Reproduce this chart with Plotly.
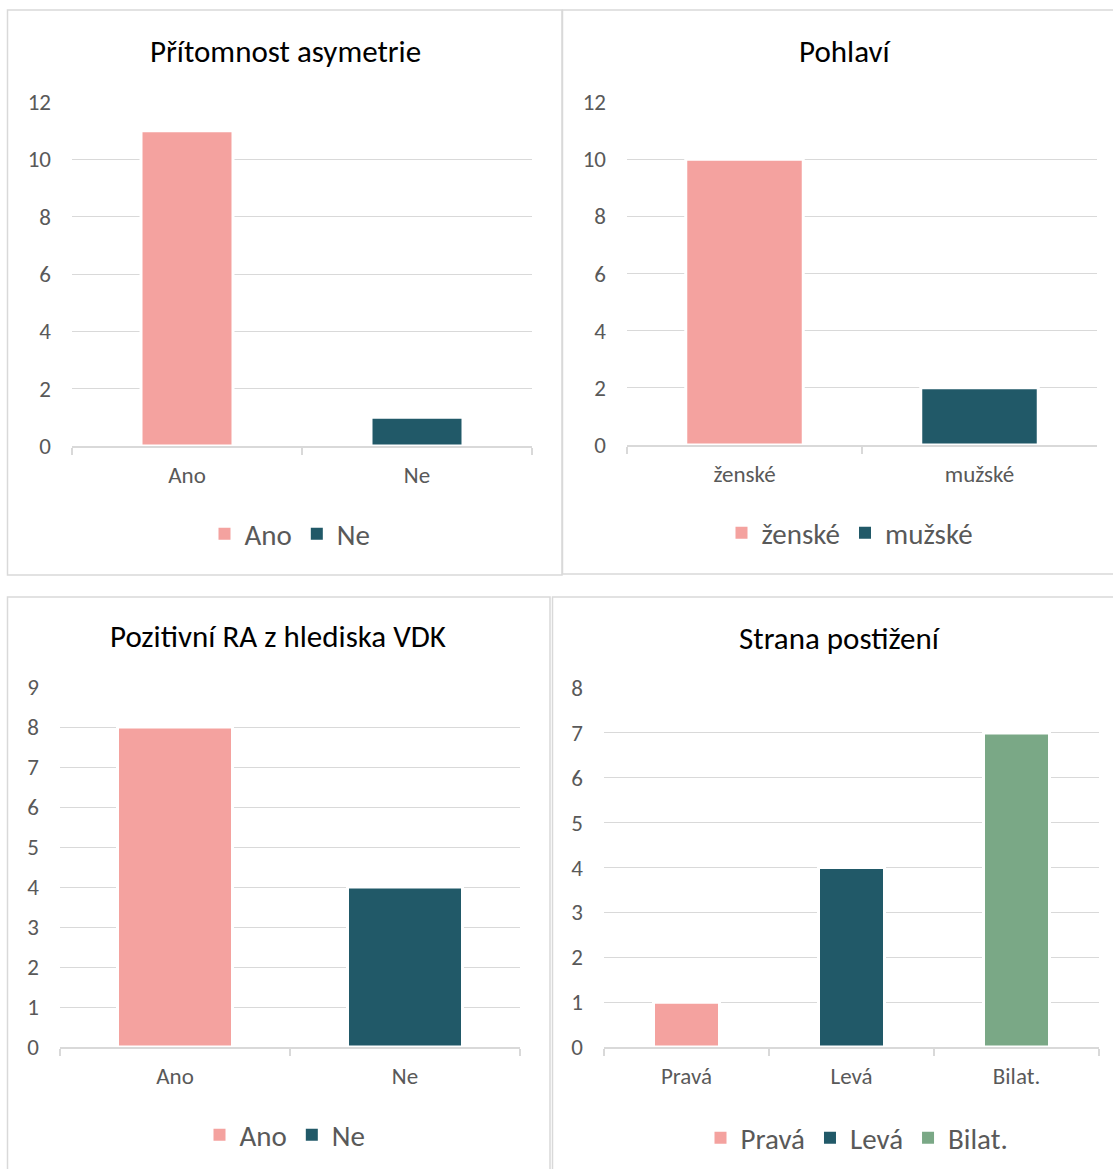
import plotly.graph_objects as go

W, H = 1113, 1169

# ---- data ----
titles = ["Přítomnost asymetrie", "Pohlaví", "Pozitivní RA z hlediska VDK", "Strana postižení"]
cats1 = ["Ano", "Ne"]
vals1 = [11, 1]
cats2 = ["ženské", "mužské"]
vals2 = [10, 2]
cats3 = ["Ano", "Ne"]
vals3 = [8, 4]
cats4 = ["Pravá", "Levá", "Bilat."]
vals4 = [1, 4, 7]

PINK = "#F4A29F"
TEAL = "#215968"
GREEN = "#7AA886"
colors1 = [PINK, TEAL]
colors2 = [PINK, TEAL]
colors3 = [PINK, TEAL]
colors4 = [PINK, TEAL, GREEN]

FONT = "Carlito, Lato, sans-serif"
GRID = "#D9D9D9"
TXT = "#595959"


def px(x):
    return x / W


def py(y):
    return 1 - y / H


panels = [
    dict(c=cats1, v=vals1, col=colors1, xd=(72, 532), yd=(446, 102), ymax=12, dt=2, bw=0.40, tp=(285, 51), lp=(290, 534)),
    dict(c=cats2, v=vals2, col=colors2, xd=(627, 1097), yd=(445, 102), ymax=12, dt=2, bw=0.50, tp=(845, 51), lp=(850, 533)),
    dict(c=cats3, v=vals3, col=colors3, xd=(60, 520), yd=(1047, 687), ymax=9, dt=1, bw=0.50, tp=(278, 636), lp=(285, 1135)),
    dict(c=cats4, v=vals4, col=colors4, xd=(604, 1099), yd=(1047, 688), ymax=8, dt=1, bw=0.40, tp=(840, 638), lp=(857, 1138)),
]

fig = go.Figure()
layout = dict(
    width=W, height=H, margin=dict(l=0, r=0, t=0, b=0, autoexpand=False),
    paper_bgcolor="white", plot_bgcolor="white",
    barmode="overlay", font=dict(family=FONT, color=TXT),
    annotations=[], shapes=[],
)

for i, p in enumerate(panels, start=1):
    sfx = "" if i == 1 else str(i)
    lg = "legend" if i == 1 else f"legend{i}"
    for cat, val, col in zip(p["c"], p["v"], p["col"]):
        # the visible bar (white outline breaks the gridlines like in the original)
        fig.add_trace(go.Bar(
            x=[cat], y=[val], name=cat, width=p["bw"],
            marker=dict(color=col, line=dict(color="white", width=3)),
            xaxis="x" + sfx, yaxis="y" + sfx, showlegend=False,
        ))
        # legend entry with a clean square symbol
        fig.add_trace(go.Bar(
            x=[cat], y=[None], name=cat, width=p["bw"],
            marker=dict(color=col, line=dict(width=0)),
            xaxis="x" + sfx, yaxis="y" + sfx, legend=lg, showlegend=True,
        ))
    layout["xaxis" + sfx] = dict(
        domain=[px(p["xd"][0]), px(p["xd"][1])], anchor="y" + sfx,
        type="category", categoryorder="array", categoryarray=p["c"],
        showline=True, linecolor=GRID, linewidth=1.5,
        ticks="outside", tickson="boundaries", ticklen=7, tickcolor=GRID, tickwidth=1.5,
        showgrid=False, tickfont=dict(family=FONT, size=23, color=TXT),
        ticklabelstandoff=8, fixedrange=True, automargin=False,
    )
    layout["yaxis" + sfx] = dict(
        domain=[py(p["yd"][0]), py(p["yd"][1])], anchor="x" + sfx,
        range=[0, p["ymax"]], dtick=p["dt"], tick0=0,
        showgrid=True, gridcolor=GRID, gridwidth=1.3, zeroline=False,
        showline=False, ticks="", tickfont=dict(family=FONT, size=23, color=TXT),
        ticklabelstandoff=20, fixedrange=True, automargin=False,
    )
    layout[lg] = dict(
        orientation="h", x=px(p["lp"][0]), y=py(p["lp"][1]),
        xanchor="center", yanchor="middle",
        font=dict(family=FONT, size=29, color=TXT), bgcolor="rgba(0,0,0,0)",
        itemclick=False, itemdoubleclick=False,
    )
    layout["annotations"].append(dict(
        text=titles[i - 1], x=px(p["tp"][0]), y=py(p["tp"][1]),
        xref="paper", yref="paper", xanchor="center", yanchor="middle",
        showarrow=False, font=dict(family=FONT, size=31, color="#000000"),
    ))

# panel borders
boxes = [(7.5, 10, 562, 575), (562.5, 10, 1120, 574), (7.5, 597, 550, 1175), (552.5, 597, 1120, 1175)]
for x0, y0, x1, y1 in boxes:
    layout["shapes"].append(dict(
        type="rect", xref="paper", yref="paper",
        x0=px(x0), x1=px(x1), y0=py(y1), y1=py(y0),
        line=dict(color=GRID, width=1.5), fillcolor="rgba(0,0,0,0)", layer="below",
    ))

fig.update_layout(**layout)
fig.write_html("out.html")
